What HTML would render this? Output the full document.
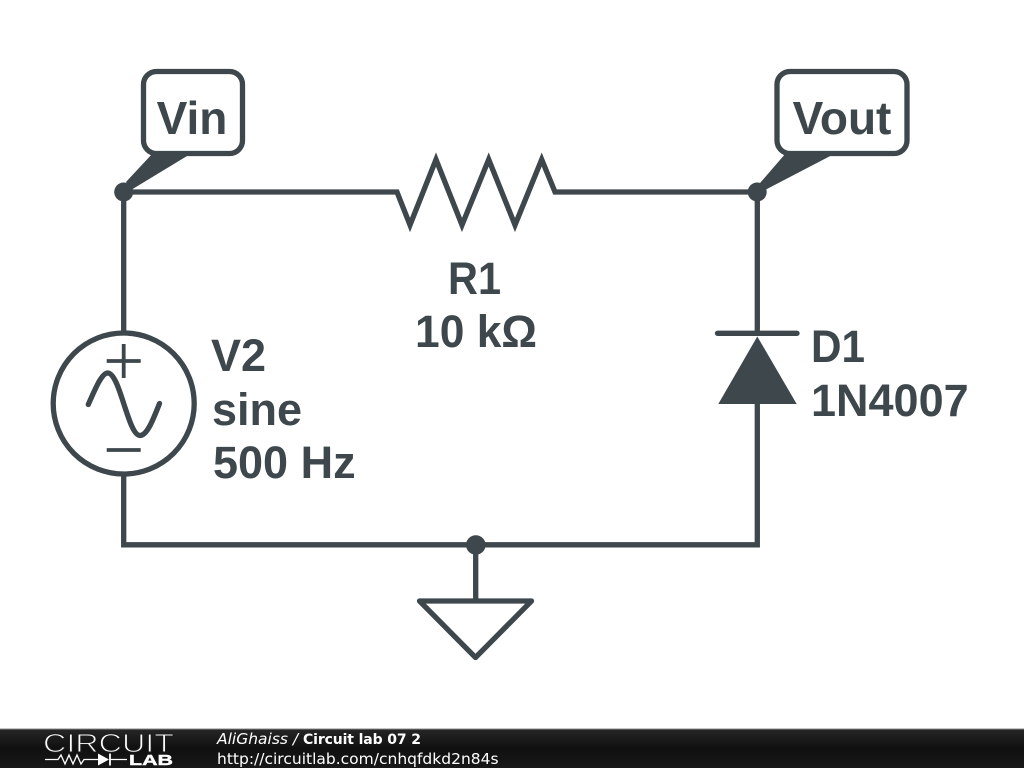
<!DOCTYPE html>
<html>
<head>
<meta charset="utf-8">
<style>
html,body{margin:0;padding:0;background:#fff}
svg{display:block}
</style>
</head>
<body>
<svg width="1024" height="768" viewBox="0 0 1024 768" xmlns="http://www.w3.org/2000/svg">
<defs>
<linearGradient id="bar" x1="0" y1="0" x2="0" y2="1">
<stop offset="0" stop-color="#262626"/>
<stop offset="0.5" stop-color="#101010"/>
<stop offset="1" stop-color="#181818"/>
</linearGradient>
</defs>
<rect width="1024" height="768" fill="#fff"/>
<g fill="none" stroke="#3d474c" stroke-width="5.3" stroke-linejoin="round" stroke-linecap="round">
<path d="M123.700 333V192H397L410 225L436 159.500L462 225L488.700 159.500L515 225L541.700 159.500L555 192H757.300V333" stroke-linejoin="miter" stroke-miterlimit="10" stroke-linecap="butt"/>
<path d="M757.300 404V544.800H123.700V475" stroke-linejoin="miter" stroke-linecap="butt"/>
<path d="M475.700 545V601" stroke-linecap="butt"/>
<path d="M419.500 601H531.500L475.500 657.500Z"/>
<path d="M717.500 333.300H797"/>
<circle cx="123.700" cy="403.500" r="70.500"/>
<path d="M106.700 361H140.700M123.700 344V378M106.700 450H140.700" stroke-width="3.800" stroke-linecap="butt"/>
<path d="M88.300 404.500C96 387 102 373 107.700 373C120 373 128 435.500 140 435.500C147 435.500 153 420 159.500 403.500"/>
<rect x="143.500" y="71.500" width="99" height="82" rx="13"/>
<rect x="777" y="71.500" width="130" height="82" rx="13"/>
</g>
<g fill="#3d474c">
<path d="M757.300 336.500L796.700 404H718.300Z"/>
<path d="M126 182L153 153H192L131 190Z"/>
<path d="M760 183L786 153H836L765 190Z"/>
<circle cx="123.700" cy="192" r="9.500"/>
<circle cx="757.200" cy="192" r="9.500"/>
<circle cx="475.800" cy="545" r="9.800"/>
</g>
<g font-family="'Liberation Sans',sans-serif" font-weight="700" font-size="45" fill="#3d474c">
<text x="192" y="134" text-anchor="middle" font-size="46">Vin</text>
<text x="842" y="134" text-anchor="middle" font-size="46">Vout</text>
<text x="448" y="294" textLength="53" lengthAdjust="spacingAndGlyphs">R1</text>
<text x="415" y="347" textLength="122" lengthAdjust="spacingAndGlyphs">10 kΩ</text>
<text x="211" y="371">V2</text>
<text x="212" y="425">sine</text>
<text x="213" y="478">500 Hz</text>
<text x="811" y="362" textLength="54" lengthAdjust="spacingAndGlyphs">D1</text>
<text x="811" y="416">1N4007</text>
</g>
<rect y="729" width="1024" height="39" fill="url(#bar)"/>
<rect y="728.500" width="1024" height="1" fill="#888"/>
<text x="43" y="752" font-family="'Liberation Sans',sans-serif" font-size="26" fill="#fff" stroke="#1a1a1a" stroke-width="1" textLength="131" lengthAdjust="spacingAndGlyphs">CIRCUIT</text>
<g fill="none" stroke="#fff" stroke-width="1.300">
<path d="M45 759.500H58L61 755L65 764L69 755L73 764L77 755L81 764L84 759.500H99M110 759.500H127"/>
<path d="M110 753.500V765.500" stroke-width="1.800"/>
</g>
<path d="M98 753.500L109 759.500L98 765.500Z" fill="#fff"/>
<text x="129" y="765" font-family="'Liberation Sans',sans-serif" font-weight="700" font-size="15" fill="#fff" stroke="#fff" stroke-width="0.400" textLength="44" lengthAdjust="spacingAndGlyphs">LAB</text>
<text x="217" y="744" font-family="'DejaVu Sans',sans-serif" font-size="15.500" font-style="italic" fill="#fff">AliGhaiss /</text>
<text x="303" y="744" font-family="'DejaVu Sans',sans-serif" font-size="14" font-weight="700" fill="#fff" textLength="118" lengthAdjust="spacing">Circuit lab 07 2</text>
<text x="217" y="764" font-family="'DejaVu Sans',sans-serif" font-size="15.500" fill="#fff">http://circuitlab.com/cnhqfdkd2n84s</text>
</svg>
</body>
</html>
